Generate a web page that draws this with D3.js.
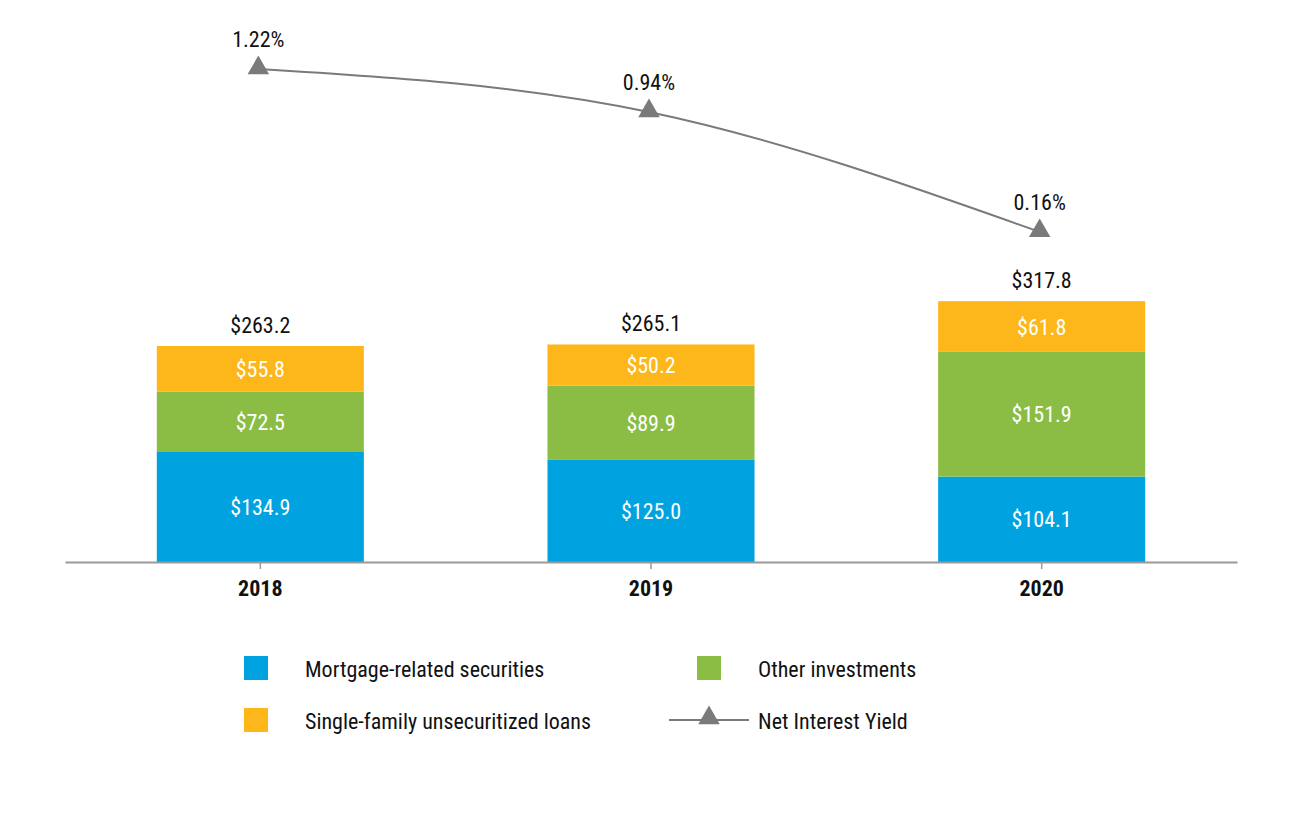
<!DOCTYPE html>
<html><head><meta charset="utf-8">
<script src="https://cdn.jsdelivr.net/npm/d3@7"></script>
<style>body{margin:0;background:#fff}svg{display:block}text{font-family:"Liberation Sans Narrow","Roboto Condensed","Liberation Sans",Arial,sans-serif}</style>
</head><body><svg id="c" width="1300" height="820"></svg>
<script>
const years = ["2018","2019","2020"];
const mortgage = [134.9,125.0,104.1];
const other = [72.5,89.9,151.9];
const singleFamily = [55.8,50.2,61.8];
const totals = [263.2,265.1,317.8];
const yieldPct = [1.22,0.94,0.16];
const seriesNames = ["Mortgage-related securities","Other investments","Single-family unsecuritized loans"];
const lineName = "Net Interest Yield";
const colors = ["#00A3E0","#8BBD45","#FDB71A"];

const FS = 22;
const svg = d3.select("#c");
const baseY = 562;
const x = d3.scaleBand().domain(years).range([65,1237]).paddingInner(0.47).paddingOuter(0.235);
const y = d3.scaleLinear().domain([0,317.8]).range([baseY, baseY-260.8]);
const yy = d3.scaleLinear().domain([0,1.22]).range([256.5,69]);

const rows = years.map((yr,i)=>({year:yr, m:mortgage[i], o:other[i], s:singleFamily[i]}));
const stack = d3.stack().keys(["m","o","s"])(rows);

stack.forEach((layer,li)=>{
  svg.append("g").selectAll("rect").data(layer).join("rect")
    .attr("x",d=>x(d.data.year)).attr("width",x.bandwidth())
    .attr("y",d=>y(d[1])).attr("height",d=>y(d[0])-y(d[1]))
    .attr("fill",colors[li]);
  svg.append("g").selectAll("text").data(layer).join("text")
    .attr("x",d=>x(d.data.year)+x.bandwidth()/2)
    .attr("y",d=>(y(d[0])+y(d[1]))/2+8)
    .attr("text-anchor","middle").attr("fill","#fff").attr("font-size",FS)
    .text(d=>"$"+(d[1]-d[0]).toFixed(1));
});

svg.append("g").selectAll("text").data(totals).join("text")
  .attr("x",(d,i)=>x(years[i])+x.bandwidth()/2)
  .attr("y",d=>y(d)-13).attr("text-anchor","middle").attr("font-size",FS).attr("fill","#111")
  .text(d=>"$"+d.toFixed(1));

// axis
const ax = svg.append("g").attr("transform",`translate(0,${baseY})`)
  .call(d3.axisBottom(x).tickSizeInner(7).tickSizeOuter(0).tickPadding(11));
ax.select(".domain").attr("stroke","#9a9a9a").attr("stroke-width",2);
ax.selectAll(".tick line").attr("stroke","#9a9a9a").attr("stroke-width",1.5);
ax.selectAll(".tick text").attr("font-size",FS).attr("font-weight","bold").attr("fill","#111")
  .attr("font-family","'Liberation Sans Narrow','Liberation Sans',Arial,sans-serif");

// line
const cx = i=>x(years[i])+x.bandwidth()/2-2;
const line = d3.line().x((d,i)=>cx(i)).y(d=>yy(d)).curve(d3.curveMonotoneX);
svg.append("path").datum(yieldPct).attr("d",line).attr("fill","none").attr("stroke","#7a7a7a").attr("stroke-width",2);
const tri = d3.symbol().type(d3.symbolTriangle).size(200);
svg.append("g").selectAll("path").data(yieldPct).join("path")
  .attr("d",tri).attr("transform",(d,i)=>`translate(${cx(i)},${yy(d)-1})`).attr("fill","#7a7a7a");
svg.append("g").selectAll("text").data(yieldPct).join("text")
  .attr("x",(d,i)=>cx(i)).attr("y",d=>yy(d)-22).attr("text-anchor","middle")
  .attr("font-size",FS).attr("fill","#111").text(d=>d.toFixed(2)+"%");

// legend
const leg = svg.append("g");
const items = [
  {t:seriesNames[0], c:colors[0], x:244, y:656},
  {t:seriesNames[1], c:colors[1], x:697, y:656},
  {t:seriesNames[2], c:colors[2], x:244, y:708}
];
items.forEach(it=>{
  leg.append("rect").attr("x",it.x).attr("y",it.y).attr("width",24).attr("height",24).attr("fill",it.c);
  leg.append("text").attr("x",it.x+61).attr("y",it.y+21).attr("font-size",FS).attr("fill","#111").text(it.t);
});
leg.append("line").attr("x1",669).attr("x2",749).attr("y1",720).attr("y2",720).attr("stroke","#7a7a7a").attr("stroke-width",2);
leg.append("path").attr("d",tri).attr("transform","translate(709,718)").attr("fill","#7a7a7a");
leg.append("text").attr("x",758).attr("y",729).attr("font-size",FS).attr("fill","#111").text(lineName);
</script></body></html>
